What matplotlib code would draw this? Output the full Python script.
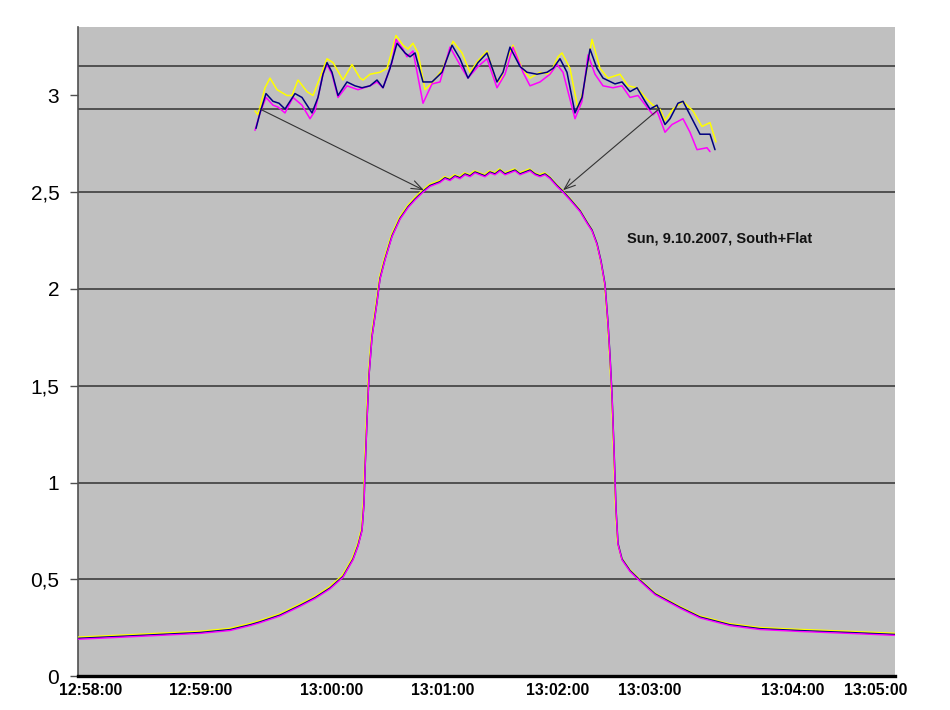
import matplotlib
matplotlib.use("Agg")
import matplotlib.pyplot as plt
from matplotlib.transforms import offset_copy
from matplotlib.ticker import FuncFormatter

# ---------------- data ----------------
# x is a sample index along the (irregular) time axis
main_x = [0, 42, 82, 122, 152, 172, 182, 202, 222, 237, 252, 265, 275, 280, 284, 286, 287, 289,
          291, 294, 299, 302, 307, 314, 322, 330, 337, 345, 352, 357, 362, 367, 372, 377, 382,
          387, 392, 397, 402, 407, 412, 417, 422, 427, 432, 437, 442, 447, 452, 457, 462, 467,
          472, 479, 485, 492, 502, 509, 514, 519, 523, 527, 530, 532, 534, 536, 538, 540, 544,
          552, 562, 577, 602, 622, 652, 682, 722, 772, 817]
main_y = [0.19, 0.20, 0.21, 0.22, 0.235, 0.26, 0.275, 0.31, 0.36, 0.40, 0.45, 0.51, 0.60, 0.67,
          0.75, 0.89, 1.06, 1.32, 1.55, 1.75, 1.93, 2.05, 2.15, 2.27, 2.36, 2.42, 2.46, 2.50,
          2.53, 2.54, 2.55, 2.57, 2.56, 2.58, 2.57, 2.59, 2.58, 2.60, 2.59, 2.58, 2.60, 2.59,
          2.61, 2.59, 2.60, 2.61, 2.59, 2.60, 2.61, 2.59, 2.58, 2.59, 2.57, 2.53, 2.50, 2.46,
          2.40, 2.34, 2.30, 2.23, 2.14, 2.02, 1.82, 1.65, 1.45, 1.17, 0.86, 0.68, 0.60, 0.54,
          0.49, 0.42, 0.35, 0.30, 0.26, 0.24, 0.23, 0.22, 0.21]

# zoomed detail of the plateau (pasted inset), yellow / navy / magenta series
yel_x = [177, 180, 187, 192, 199, 209, 214, 220, 229, 235, 244, 249, 255, 265, 274, 282, 285, 292,
         302, 309, 315, 318, 325, 330, 335, 340, 347, 355, 365, 375, 384, 392, 400, 409, 417, 422,
         429, 435, 444, 452, 462, 472, 480, 484, 492, 500, 505, 514, 522, 530, 542, 550, 559, 569,
         575, 582, 587, 595, 605, 615, 624, 632, 638]
yel_y = [2.92, 2.90, 3.04, 3.09, 3.03, 3.00, 3.00, 3.08, 3.02, 3.00, 3.12, 3.19, 3.17, 3.08, 3.16,
         3.09, 3.08, 3.11, 3.12, 3.14, 3.25, 3.31, 3.26, 3.24, 3.27, 3.22, 3.03, 3.07, 3.14, 3.28,
         3.22, 3.12, 3.18, 3.23, 3.09, 3.07, 3.19, 3.26, 3.14, 3.09, 3.12, 3.11, 3.20, 3.22, 3.14,
         2.93, 3.02, 3.29, 3.14, 3.09, 3.11, 3.05, 3.04, 2.98, 2.95, 2.93, 2.87, 2.93, 2.97, 2.92,
         2.84, 2.86, 2.76]

nav_x = [178, 182, 188, 195, 201, 207, 212, 217, 224, 234, 240, 245, 249, 254, 260, 269, 277, 284,
         292, 299, 305, 312, 319, 327, 332, 337, 345, 354, 364, 374, 382, 390, 400, 409, 419, 425,
         432, 442, 449, 459, 469, 475, 482, 489, 497, 504, 512, 519, 525, 537, 544, 552, 559, 567,
         572, 579, 587, 592, 600, 605, 612, 622, 632, 637]
nav_y = [2.83, 2.91, 3.01, 2.97, 2.96, 2.93, 2.97, 3.01, 2.99, 2.91, 2.99, 3.11, 3.17, 3.12, 3.00,
         3.07, 3.05, 3.04, 3.05, 3.08, 3.04, 3.14, 3.27, 3.22, 3.20, 3.22, 3.07, 3.07, 3.12, 3.26,
         3.19, 3.09, 3.17, 3.22, 3.07, 3.12, 3.25, 3.15, 3.12, 3.11, 3.12, 3.14, 3.19, 3.12, 2.91,
         2.99, 3.24, 3.14, 3.09, 3.06, 3.07, 3.02, 3.04, 2.97, 2.93, 2.95, 2.85, 2.88, 2.96, 2.97,
         2.90, 2.80, 2.80, 2.72]

mag_x = [177, 182, 188, 195, 200, 207, 215, 224, 232, 237, 245, 249, 254, 260, 269, 280, 292, 299,
         305, 314, 318, 325, 329, 335, 345, 354, 362, 372, 384, 390, 400, 409, 419, 427, 435, 445,
         452, 462, 472, 479, 485, 497, 504, 510, 517, 525, 535, 544, 552, 560, 569, 575, 579, 587,
         594, 605, 612, 619, 629, 632]
mag_y = [2.82, 2.91, 2.99, 2.95, 2.94, 2.91, 2.99, 2.95, 2.88, 2.92, 3.11, 3.16, 3.11, 2.99, 3.05,
         3.03, 3.05, 3.07, 3.04, 3.17, 3.29, 3.24, 3.20, 3.23, 2.96, 3.06, 3.07, 3.25, 3.14, 3.09,
         3.15, 3.19, 3.04, 3.11, 3.25, 3.12, 3.05, 3.07, 3.11, 3.16, 3.12, 2.88, 2.97, 3.21, 3.11,
         3.05, 3.04, 3.05, 2.99, 3.00, 2.94, 2.90, 2.92, 2.81, 2.85, 2.88, 2.81, 2.72, 2.73, 2.71]

grid_vals = [0.5, 1.0, 1.5, 2.0, 2.5, 2.93, 3.152]
y_ticks = [0, 0.5, 1, 1.5, 2, 2.5, 3]
x_tick_pos = [13, 123, 254, 365, 480, 572, 715, 798]
x_tick_labels = ["12:58:00", "12:59:00", "13:00:00", "13:01:00",
                 "13:02:00", "13:03:00", "13:04:00", "13:05:00"]
annotation = "Sun, 9.10.2007, South+Flat"
arrow_left = ((182, 2.93), (346, 2.51))
arrow_right = ((582, 2.935), (485, 2.51))

# ---------------- figure ----------------
plt.rcParams['font.family'] = ['Liberation Sans', 'DejaVu Sans']
fig = plt.figure(figsize=(9.5, 7.1), dpi=100)
fig.patch.set_facecolor('white')
ax = fig.add_axes([78/950, 34/710, 817/950, 649/710])
ax.set_facecolor('#C0C0C0')
ax.set_xlim(0, 817)
ax.set_ylim(0, 649/193.5)

for g in grid_vals:
    ax.axhline(g, color='#484848', lw=1.3, zorder=1)

# main curve: three nearly identical series
t_y = offset_copy(ax.transData, fig=fig, x=-0.5, y=2.0, units='dots')
t_n = offset_copy(ax.transData, fig=fig, x=0, y=0.9, units='dots')
ax.plot(main_x, main_y, color='#FFFF00', lw=1.2, transform=t_y, zorder=3,
        solid_joinstyle='round')
ax.plot(main_x, main_y, color='#000080', lw=1.1, transform=t_n, zorder=4,
        solid_joinstyle='round')
ax.plot(main_x, main_y, color='#FF00FF', lw=1.0, zorder=5, solid_joinstyle='round')

# inset zoom curves
kw = dict(lw=1.1, solid_joinstyle='round', solid_capstyle='round')
ax.plot(yel_x, yel_y, color='#FFFF00', zorder=3, **kw)
ax.plot(mag_x, mag_y, color='#FF00FF', zorder=4, **kw)
ax.plot(nav_x, nav_y, color='#000080', zorder=5, **kw)

for (p0, p1) in (arrow_left, arrow_right):
    ax.annotate('', xy=p1, xytext=p0,
                arrowprops=dict(arrowstyle='->,head_length=0.8,head_width=0.3',
                                color='#333333', lw=0.8, shrinkA=0, shrinkB=0),
                zorder=6)

ax.text(549, 2.26, annotation, fontsize=10.5, fontweight='bold', color='#111111',
        ha='left', va='center')

# axes styling
for s in ('top', 'right'):
    ax.spines[s].set_visible(False)
ax.spines['left'].set_color('#505050')
ax.spines['left'].set_linewidth(1.2)
ax.spines['bottom'].set_color('black')
ax.spines['bottom'].set_linewidth(2.4)

ax.set_yticks(y_ticks)
ax.yaxis.set_major_formatter(FuncFormatter(lambda v, p: ('%g' % v).replace('.', ',')))
ax.tick_params(axis='y', length=5.5, width=1.0, color='#505050', labelsize=15, pad=8)
ax.set_xticks(x_tick_pos)
ax.set_xticklabels(x_tick_labels, fontsize=11.3, fontweight='bold')
ax.tick_params(axis='x', length=0, pad=5)

fig.savefig('out.png', dpi=100, facecolor='white')
